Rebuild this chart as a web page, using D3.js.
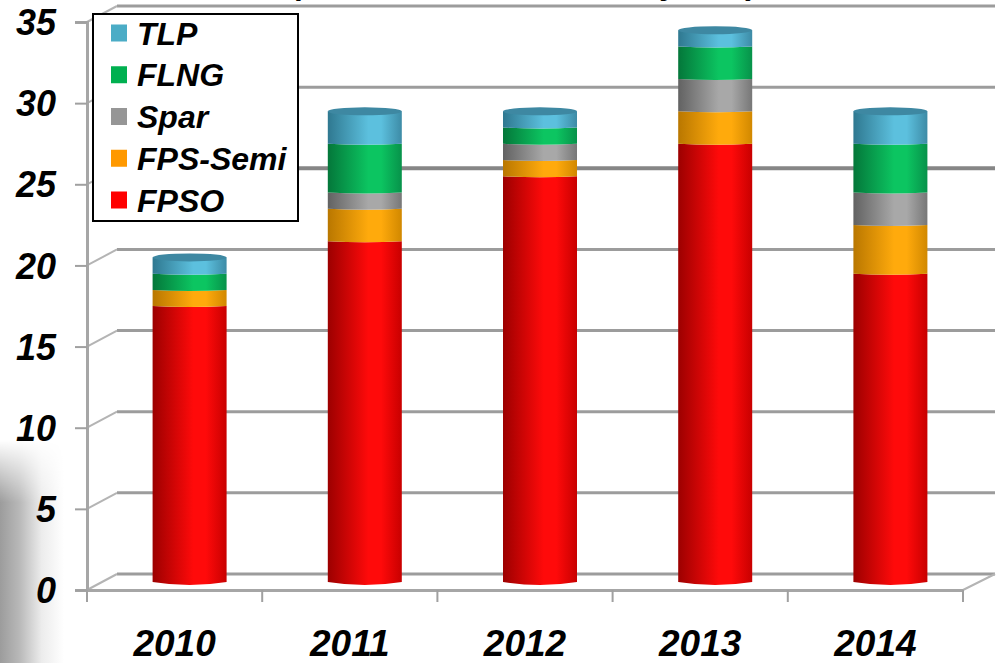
<!DOCTYPE html>
<html>
<head>
<meta charset="utf-8">
<script src="https://cdn.jsdelivr.net/npm/d3@7"></script>
<style>
  html, body { margin: 0; padding: 0; background: #fff; }
  svg { display: block; }
  text { font-family: "Liberation Sans", Arial, sans-serif; font-weight: bold; font-style: italic; fill: #000; }
</style>
</head>
<body>
<svg id="chart" width="1000" height="663"></svg>
<script>
// Annual unit counts by floating production type
const years = ["2010", "2011", "2012", "2013", "2014"];
const seriesNames = ["FPSO", "FPS-Semi", "Spar", "FLNG", "TLP"];
const fpso = [17, 21, 25, 27, 19];
const fpsSemi = [1, 2, 1, 2, 3];
const spar = [0, 1, 1, 2, 2];
const flng = [1, 3, 1, 2, 3];
const tlp = [1, 2, 1, 1, 2];
const yTicks = [0, 5, 10, 15, 20, 25, 30, 35];
const legendOrder = ["TLP", "FLNG", "Spar", "FPS-Semi", "FPSO"];

const rows = years.map((year, i) => ({
  year,
  "FPSO": fpso[i],
  "FPS-Semi": fpsSemi[i],
  "Spar": spar[i],
  "FLNG": flng[i],
  "TLP": tlp[i]
}));

const swatch = { "TLP": "#4bacc6", "FLNG": "#00b050", "Spar": "#969696", "FPS-Semi": "#ff9900", "FPSO": "#ff0000" };
const shades = {
  "TLP": ["#2f7890", "#5cc0de", "#3d8ba6"],
  "FLNG": ["#04773a", "#0cc561", "#07924a"],
  "Spar": ["#626262", "#a8a8a8", "#777777"],
  "FPS-Semi": ["#b97700", "#ffaa0c", "#d18800"],
  "FPSO": ["#9c0000", "#ff0a0a", "#c80000"]
};

const svg = d3.select("#chart");
const defs = svg.append("defs");

// Oblique depth of the 3-D box that holds the columns
const depthX = 30, depthY = 16;
const x = d3.scaleBand().domain(years).range([87, 963]);
const y = d3.scaleLinear().domain([0, 35]).range([590, 22]);
const barWidth = 74;

// Cylinder shading, one horizontal gradient per series
seriesNames.forEach((name, i) => {
  const g = defs.append("linearGradient").attr("id", "cyl" + i);
  const [dark, bright, edge] = shades[name];
  [[0, dark], [0.55, bright], [0.72, bright], [1, edge]].forEach(([o, c]) =>
    g.append("stop").attr("offset", o).attr("stop-color", c));
});

// Soft grey shadow in the lower left corner
const sideFade = defs.append("linearGradient").attr("id", "sideFade");
[[0, "#9c9c9c"], [0.3, "#b8b8b8"], [0.65, "#ececec"], [1, "#ffffff"]].forEach(([o, c]) =>
  sideFade.append("stop").attr("offset", o).attr("stop-color", c));
const downFade = defs.append("linearGradient").attr("id", "downFade").attr("x2", 0).attr("y2", 1);
[[0, "#000"], [0.28, "#fff"], [1, "#fff"]].forEach(([o, c]) =>
  downFade.append("stop").attr("offset", o).attr("stop-color", c));
defs.append("mask").attr("id", "shadowMask").attr("maskUnits", "userSpaceOnUse")
  .attr("x", 0).attr("y", 440).attr("width", 70).attr("height", 223)
  .append("rect").attr("x", 0).attr("y", 440).attr("width", 70).attr("height", 223)
  .attr("fill", "url(#downFade)");
svg.append("rect").attr("x", 0).attr("y", 440).attr("width", 64).attr("height", 223)
  .attr("fill", "url(#sideFade)").attr("mask", "url(#shadowMask)");

// Descenders of the heading that runs off the top edge
[["(", 293], ["y", 662], [")", 748]].forEach(([t, px]) =>
  svg.append("text").attr("x", px).attr("y", -6).attr("font-size", 32).text(t));

// Back wall gridlines and their diagonal returns to the front axis
const grid = svg.append("g");
yTicks.forEach(v => {
  const py = y(v);
  grid.append("line")
    .attr("x1", 87 + depthX).attr("x2", 995)
    .attr("y1", py - depthY).attr("y2", py - depthY)
    .attr("stroke", v === 25 ? "#868686" : "#9c9c9c")
    .attr("stroke-width", v === 25 ? 4 : 3);
  grid.append("line")
    .attr("x1", 87).attr("x2", 87 + depthX)
    .attr("y1", py).attr("y2", py - depthY)
    .attr("stroke", "#b4b4b4").attr("stroke-width", 2);
});
grid.append("line").attr("x1", 963).attr("x2", 995)
  .attr("y1", y(0)).attr("y2", y(0) - depthY)
  .attr("stroke", "#b4b4b4").attr("stroke-width", 2);

// Front axes, drawn through d3.axis and restyled
const yAxis = svg.append("g").attr("transform", "translate(87,0)")
  .call(d3.axisLeft(y).tickValues(yTicks).tickSize(12).tickPadding(19));
const xAxis = svg.append("g").attr("transform", `translate(0,${y(0)})`)
  .call(d3.axisBottom(x).tickSize(0).tickPadding(40));
[yAxis, xAxis].forEach(a => a.select(".domain").attr("stroke", "#a6a6a6").attr("stroke-width", 3));
yAxis.selectAll(".tick line").attr("stroke", "#a0a0a0").attr("stroke-width", 2);
yAxis.selectAll("text").attr("font-size", 36).attr("fill", "#000").attr("dy", "0.35em");
xAxis.selectAll("text").attr("font-size", 37).attr("fill", "#000");
const xTickPositions = years.map(d => x(d)).concat(x.range()[1]);
svg.append("g").selectAll("line").data(xTickPositions).join("line")
  .attr("x1", d => d).attr("x2", d => d)
  .attr("y1", y(0)).attr("y2", y(0) + 12)
  .attr("stroke", "#a0a0a0").attr("stroke-width", 2);

// Stacked cylinders: every band has a curved lower and upper edge
const stacked = d3.stack().keys(seriesNames)(rows);
const bars = svg.append("g");
const bandPath = (left, right, top, bottom, topBow, bottomBow) => {
  const mid = (left + right) / 2;
  return `M${left},${top}Q${mid},${top + topBow} ${right},${top}` +
         `L${right},${bottom}Q${mid},${bottom + bottomBow} ${left},${bottom}Z`;
};
stacked.forEach((layer, i) => {
  layer.forEach(seg => {
    if (seg[1] === seg[0]) return;
    const cx = x(seg.data.year) + x.bandwidth() / 2 + depthX / 2;
    const left = cx - barWidth / 2, right = cx + barWidth / 2;
    const top = y(seg[1]) - depthY / 2, bottom = y(seg[0]) - depthY / 2;
    bars.append("path")
      .attr("d", bandPath(left, right, top, bottom, 2, seg[0] === 0 ? 6 : 2))
      .attr("fill", `url(#cyl${i})`);
  });
});

// End caps on the top of each cylinder
const totals = rows.map(r => d3.sum(seriesNames, k => r[k]));
svg.append("g").selectAll("ellipse").data(years).join("ellipse")
  .attr("cx", d => x(d) + x.bandwidth() / 2 + depthX / 2)
  .attr("cy", (d, i) => y(totals[i]) - depthY / 2)
  .attr("rx", barWidth / 2).attr("ry", 4)
  .attr("fill", "#3e88a2");

// Legend box
const legend = svg.append("g");
legend.append("rect").attr("x", 93).attr("y", 14).attr("width", 205).attr("height", 207)
  .attr("fill", "#fff").attr("stroke", "#000").attr("stroke-width", 2);
const legendY = d3.scalePoint().domain(legendOrder).range([33, 200]);
legendOrder.forEach(name => {
  legend.append("rect").attr("x", 111).attr("y", legendY(name) - 8.5)
    .attr("width", 16).attr("height", 17).attr("fill", swatch[name]);
  legend.append("text").attr("x", 137).attr("y", legendY(name))
    .attr("dy", "0.36em").attr("font-size", 32).text(name);
});
</script>
</body>
</html>
